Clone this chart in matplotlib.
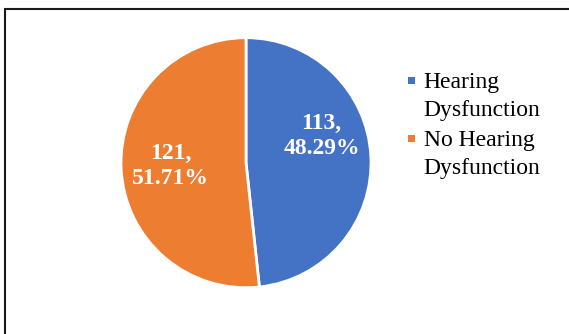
import matplotlib
matplotlib.use("Agg")
import matplotlib.pyplot as plt
from matplotlib.lines import Line2D
from matplotlib.patches import Rectangle

categories = ["Hearing Dysfunction", "No Hearing Dysfunction"]
counts = [113, 121]
percents = [48.29, 51.71]
colors = ["#4472C4", "#ED7D31"]

W, H = 569, 334
DPI = 100
fig = plt.figure(figsize=(W / DPI, H / DPI), dpi=DPI)
serif = ["Liberation Serif", "DejaVu Serif"]

def fx(px):
    return px / W

def fy(py):
    return 1 - py / H

# pie axes (pixel box)
cx, cy, r = 246, 162.7, 125.0
ax = fig.add_axes([fx(cx - r), fy(cy + r), 2 * r / W, 2 * r / H])
wedges, _ = ax.pie(counts, colors=colors, startangle=90, counterclock=False,
                   radius=1.0, wedgeprops=dict(edgecolor="white", linewidth=2.0))
ax.set_xlim(-1, 1)
ax.set_ylim(-1, 1)
ax.set_aspect("auto")
ax.axis("off")

# data labels
label_pos = [(0.605, 0.21), (-0.605, -0.03)]
for (lx, ly), c, p in zip(label_pos, counts, percents):
    ax.text(lx, ly, f"{c},\n{p:.2f}%", ha="center", va="center", color="white",
            fontsize=17, fontweight="bold", family=serif, linespacing=1.25)

# legend (manual, first line aligned with marker)
marker_y = [80, 138.5]
baselines = [(88, 116), (146, 174)]
for cat, col, my, (b1, b2) in zip(categories, colors, marker_y, baselines):
    fig.add_artist(Rectangle((fx(408), fy(my + 3.5)), 7 / W, 7 / H,
                             transform=fig.transFigure, facecolor=col,
                             edgecolor="none"))
    first, second = cat.rsplit(" ", 1)
    fig.text(fx(423.5), fy(b1), first, ha="left", va="baseline", fontsize=17,
             family=serif, color="#000000")
    fig.text(fx(423.5), fy(b2), second, ha="left", va="baseline", fontsize=17,
             family=serif, color="#000000")

# outer frame (partially cut off, as in the reference)
fig.add_artist(Line2D([fx(4.8), fx(4.8), fx(600)], [fy(400), fy(9), fy(9)],
                      transform=fig.transFigure, color="#1a1a1a", linewidth=1.5,
                      solid_joinstyle="miter"))

fig.savefig("out.png", dpi=DPI)
